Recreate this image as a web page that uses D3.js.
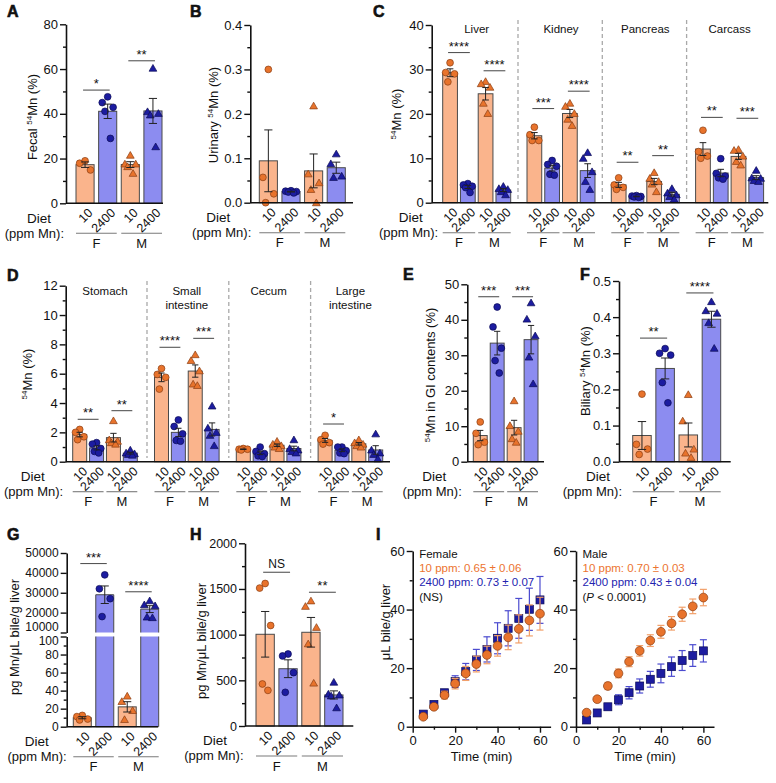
<!DOCTYPE html>
<html><head><meta charset="utf-8">
<script src="https://cdn.jsdelivr.net/npm/d3@7"></script>
<style>
body{margin:0;background:#fff}
svg{display:block}
text{font-family:"Liberation Sans",Arial,Helvetica,sans-serif;fill:#111}
</style>
</head><body>
<svg id="c" width="776" height="783"></svg>
<script>
// ---------------- DATA ----------------
const dietLabels = ["10", "2400", "10", "2400"];
const sexLabels = ["F", "M"];
// each panel: [F 10 ppm, F 2400 ppm, M 10 ppm, M 2400 ppm] individual values
const fecalPts = [[19.0, 17.9, 14.9], [47.6, 45.0, 42.9, 41.1, 29.0], [21.5, 17.6, 17.6, 16.4, 13.4], [60.4, 41.0, 40.2, 39.5, 25.3]];
const urinaryPts = [[0.30, 0.057, 0.02, 0.0], [0.027, 0.026, 0.025, 0.024, 0.022], [0.218, 0.065, 0.045, 0.03, 0.0], [0.11, 0.088, 0.06, 0.057]];
const organNamesC = [["Liver"], ["Kidney"], ["Pancreas"], ["Carcass"]];
const liverPts = [[31.5, 29.3, 29.0, 27.2], [4.3, 4.0, 3.7, 3.4, 2.3], [27.3, 26.8, 26.0, 22.4, 20.1], [3.7, 3.2, 3.0, 2.5, 1.8]];
const kidneyPts = [[17.0, 15.3, 14.0, 14.0], [9.5, 8.6, 8.2, 6.4, 6.2], [22.4, 21.7, 20.1, 18.8, 17.4], [11.3, 10.0, 7.0, 4.8, 3.0]];
const pancreasPts = [[5.6, 4.0, 3.45, 3.0], [1.6, 1.5, 1.4, 1.3, 1.2], [6.8, 5.5, 4.8, 4.2, 2.5], [3.2, 2.2, 1.8, 1.4, 0.8]];
const carcassPts = [[16.3, 11.5, 10.5, 10.0], [9.9, 6.6, 6.0, 5.6, 5.3], [12.0, 11.8, 10.5, 9.3, 8.5], [7.3, 5.6, 5.5, 5.0, 4.8]];
const organNamesD = [["Stomach"], ["Small", "intestine"], ["Cecum"], ["Large", "intestine"]];
const stomachPts = [[2.2, 2.0, 1.7, 1.5], [1.3, 1.2, 0.9, 0.7, 0.6], [2.8, 1.5, 1.4, 1.3, 1.2], [0.8, 0.6, 0.55, 0.5, 0.45]];
const smallIntPts = [[6.35, 5.95, 5.75, 4.95], [2.85, 2.4, 1.9, 1.45, 1.4], [7.3, 6.9, 6.2, 5.3, 5.2], [3.8, 2.3, 2.0, 1.8, 1.1]];
const cecumPts = [[0.9, 0.85, 0.85, 0.8], [1.0, 0.7, 0.55, 0.4, 0.35], [1.4, 1.2, 1.1, 1.0, 0.9], [1.5, 0.9, 0.8, 0.7, 0.6]];
const largeIntPts = [[1.8, 1.5, 1.3, 1.2], [1.0, 1.0, 0.75, 0.6, 0.55], [1.5, 1.3, 1.2, 1.1, 1.0], [1.9, 0.8, 0.6, 0.5, 0.2]];
const giPts = [[11.2, 8.0, 5.5, 4.8], [43.6, 38.0, 32.0, 28.5, 25.0], [17.2, 10.2, 8.6, 6.5, 5.5], [44.8, 40.2, 35.5, 29.5, 22.0]];
const biliaryPts = [[0.187, 0.048, 0.035, 0.02], [0.313, 0.300, 0.295, 0.219, 0.163], [0.186, 0.113, 0.035, 0.024, 0.012], [0.443, 0.418, 0.411, 0.385, 0.314]];
const bileMnPts = [[12.5, 11.2, 8.5, 7.5], [39000, 32000, 27000, 18000], [34, 28, 18, 8], [26000, 24000, 23500, 17800, 17500]];
const bileConcPts = [[1560, 1510, 1100, 460, 390], [788, 767, 584, 369], [1370, 1310, 1080, 900, 470], [480, 350, 340, 330, 200]];
// significance: group, bar a, bar b, level (data units), label
const sigA = [[0, 0, 1, 50.6, "*"], [0, 2, 3, 63.7, "**"]];
const sigC = [[0, 0, 1, 33.8, "****"], [0, 2, 3, 29.7, "****"], [1, 0, 1, 21.2, "***"], [1, 2, 3, 25.1, "****"],
              [2, 0, 1, 9.1, "**"], [2, 2, 3, 10.6, "**"], [3, 0, 1, 19.2, "**"], [3, 2, 3, 19.0, "***"]];
const sigD = [[0, 0, 1, 2.89, "**"], [0, 2, 3, 3.48, "**"], [1, 0, 1, 7.8, "****"], [1, 2, 3, 8.41, "***"], [3, 0, 1, 2.57, "*"]];
const sigE = [[0, 0, 1, 46.5, "***"], [0, 2, 3, 46.5, "***"]];
const sigF = [[0, 0, 1, 0.342, "**"], [0, 2, 3, 0.467, "****"]];
const sigG = [[0, 0, 1, 44700, "***"], [0, 2, 3, 30500, "****"]];
const sigH = [[0, 0, 1, 1683, "NS"], [0, 2, 3, 1464, "**"]];
// Panel I: cumulative bile volume
const timeMin = [5, 10, 15, 20, 25, 30, 35, 40, 45, 50, 55, 60];
const femaleLoMean = [3.4, 6.8, 10.8, 14.7, 18.2, 21.4, 24.5, 27.6, 30.5, 33.4, 36.3, 38.6];
const femaleLoSem = [0.5, 0.8, 1.3, 1.8, 2.4, 2.7, 3.0, 3.5, 4.2, 4.8, 5.3, 5.6];
const femaleHiMean = [4.3, 7.6, 11.6, 15.4, 18.8, 22.8, 26.4, 30.2, 33.6, 37.0, 40.1, 43.3];
const femaleHiSem = [0.5, 0.7, 1.0, 2.0, 2.8, 3.6, 4.3, 5.3, 6.0, 6.8, 7.2, 8.0];
const maleLoMean = [4.8, 9.4, 13.9, 18.2, 22.2, 25.9, 29.4, 32.4, 35.3, 38.4, 41.1, 44.1];
const maleLoSem = [0.5, 0.8, 1.2, 1.5, 1.7, 1.8, 2.0, 2.2, 2.3, 2.4, 2.5, 2.8];
const maleHiMean = [2.3, 4.7, 6.8, 9.2, 11.6, 13.9, 16.2, 18.2, 20.5, 22.6, 24.3, 25.9];
const maleHiSem = [0.5, 0.6, 1.0, 1.7, 2.1, 2.4, 2.7, 3.2, 3.3, 3.4, 3.7, 3.8];
const femaleText = ["Female", "10 ppm: 0.65 ± 0.06", "2400 ppm: 0.73 ± 0.07", "(NS)"];
const maleText = ["Male", "10 ppm: 0.70 ± 0.03", "2400 ppm: 0.43 ± 0.04", "(P < 0.0001)"];

// ---------------- STYLE ----------------
const col = {oBar: "#fab48c", bBar: "#8c8cf0", oPt: "#e8732c", oPtS: "#8a3e12", bPt: "#1c1ca0", bPtS: "#0b0b55",
             edge: "#4a4a4a", axis: "#111", oErr: "#f2a06a", bErr: "#4b4bcf", oTxt: "#ec7430", bTxt: "#2323b0"};
const svg = d3.select("#c");
const offs = [0, -0.3, 0.3, -0.15, 0.15, 0];
const sem = a => d3.deviation(a) / Math.sqrt(a.length);

function yAxisDraw(g, y, x, major, minor, fmt, fs) {
  const ax = g.append("g").attr("transform", `translate(${x},0)`)
    .call(d3.axisLeft(y).tickValues(major).tickFormat(fmt).tickSize(6).tickSizeOuter(0).tickPadding(2))
    .call(s => {
      s.select(".domain").attr("stroke", col.axis).attr("stroke-width", 1.6);
      s.selectAll(".tick line").attr("stroke", col.axis).attr("stroke-width", 1.4);
      s.selectAll(".tick text").style("font-size", (fs || 13) + "px").attr("fill", "#111");
    });
  if (minor) g.append("g").attr("transform", `translate(${x},0)`)
    .call(d3.axisLeft(y).tickValues(minor).tickFormat("").tickSize(3).tickSizeOuter(0))
    .call(s => { s.select(".domain").remove(); s.selectAll(".tick line").attr("stroke", col.axis).attr("stroke-width", 1.4); });
  return ax;
}
function yTitle(x, y, parts) {
  const t = svg.append("text").attr("transform", `translate(${x},${y}) rotate(-90)`)
    .attr("text-anchor", "middle").attr("dy", "0.35em").style("font-size", "13px");
  let prevSup = false;
  parts.forEach(p => {
    if (p[0] === "^") { t.append("tspan").text(p.slice(1)).style("font-size", "8px").attr("dy", -5); prevSup = true; }
    else { const ts = t.append("tspan").text(p); if (prevSup) ts.attr("dy", 5); prevSup = false; }
  });
}
function letter(t, x, y) {
  svg.append("text").attr("x", x).attr("y", y).text(t).style("font-size", "16px").style("font-weight", "bold")
    .attr("stroke", "#111").attr("stroke-width", 0.6);
}
function marker(g, x, y, male, blue) {
  if (male) g.append("path").attr("d", d3.symbol().type(d3.symbolTriangle).size(26)()).attr("transform", `translate(${x},${y + 0.8})`)
    .attr("fill", blue ? col.bPt : col.oPt).attr("stroke", blue ? col.bPtS : col.oPtS).attr("stroke-width", 0.7);
  else g.append("circle").attr("cx", x).attr("cy", y).attr("r", 3.4)
    .attr("fill", blue ? col.bPt : col.oPt).attr("stroke", blue ? col.bPtS : col.oPtS).attr("stroke-width", 0.7);
}
function errbar(g, cx, yHi, yLo, cap, color, w) {
  const s = color || "#222", sw = w || 1;
  g.append("line").attr("x1", cx).attr("x2", cx).attr("y1", yHi).attr("y2", yLo).attr("stroke", s).attr("stroke-width", sw);
  [yHi, yLo].forEach(yy => g.append("line").attr("x1", cx - cap / 2).attr("x2", cx + cap / 2).attr("y1", yy).attr("y2", yy).attr("stroke", s).attr("stroke-width", sw));
}
function xLabel(g, cx, yBot, t) {
  g.append("text").attr("transform", `translate(${cx + 2},${yBot + 4}) rotate(-45)`).attr("text-anchor", "end")
    .attr("dy", "0.72em").style("font-size", "12.5px").text(t);
}
function dietText(g, o) {
  g.append("text").attr("x", o.axisX + o.dietDx).attr("y", o.yBot + 19.3).attr("text-anchor", "middle").style("font-size", "13.5px").text("Diet");
  g.append("text").attr("x", o.axisX + o.ppmDx).attr("y", o.yBot + 34.2).attr("text-anchor", "end").style("font-size", "13px").text("(ppm Mn):");
}
function underline(g, xa, xb, yBot, t) {
  g.append("line").attr("x1", xa).attr("x2", xb).attr("y1", yBot + 30).attr("y2", yBot + 30).attr("stroke", "#7a7a7a").attr("stroke-width", 1.1);
  g.append("text").attr("x", (xa + xb) / 2).attr("y", yBot + 44.5).attr("text-anchor", "middle").style("font-size", "13px").text(t);
}
function sigMark(g, xa, xb, yy, t) {
  g.append("line").attr("x1", xa).attr("x2", xb).attr("y1", yy).attr("y2", yy).attr("stroke", "#555").attr("stroke-width", 1.1);
  g.append("text").attr("x", (xa + xb) / 2).attr("y", t === "NS" ? yy - 4 : yy - 2).attr("text-anchor", "middle")
    .style("font-size", t === "NS" ? "12px" : "13px").text(t);
}

// ---------------- BAR PANEL ----------------
function barPanel(o) {
  const g = svg.append("g");
  const y = d3.scaleLinear().domain(o.domain).range([o.yBot, o.yTop]);
  const inner = d3.scaleBand().domain(d3.range(4)).range([0, o.innerW]).paddingInner(o.pad);
  const bw = inner.bandwidth();
  const gx = k => o.axisX + o.first + k * (o.step || 0);
  for (let k = 1; k < o.groups.length; k++) {
    const sx = gx(k) - o.sepOff;
    g.append("line").attr("x1", sx).attr("x2", sx).attr("y1", o.sepTop).attr("y2", o.sepBot)
      .attr("stroke", "#a9a9a9").attr("stroke-width", 1.3).attr("stroke-dasharray", "4,3");
  }
  const centers = [];
  o.groups.forEach((grp, k) => {
    const base = gx(k);
    if (o.names) o.names[k].forEach((ln, li) => g.append("text").attr("x", base + o.innerW / 2).attr("y", o.nameY + li * 14)
      .attr("text-anchor", "middle").style("font-size", "11.5px").text(ln));
    centers[k] = [];
    grp.forEach((pts, i) => {
      const x0 = base + inner(i), cx = x0 + bw / 2;
      centers[k][i] = cx;
      const m = d3.mean(pts), s = sem(pts);
      const blue = i % 2 === 1, male = i >= 2;
      g.append("rect").attr("x", x0).attr("y", y(m)).attr("width", bw).attr("height", y(0) - y(m))
        .attr("fill", blue ? col.bBar : col.oBar).attr("stroke", col.edge).attr("stroke-width", 1);
      pts.forEach((v, j) => marker(g, cx + offs[j] * bw, y(v), male, blue));
      errbar(g, cx, y(m + s), y(Math.max(m - s, o.domain[0])), bw * 0.45);
      xLabel(g, cx, o.yBot, dietLabels[i]);
    });
    underline(g, base + inner(0), base + inner(1) + bw, o.yBot, sexLabels[0]);
    underline(g, base + inner(2), base + inner(3) + bw, o.yBot, sexLabels[1]);
  });
  (o.sig || []).forEach(s => sigMark(g, centers[s[0]][s[1]] - 2, centers[s[0]][s[2]] + 2, y(s[3]), s[4]));
  g.append("line").attr("x1", o.axisX).attr("x2", o.xEnd).attr("y1", o.yBot).attr("y2", o.yBot).attr("stroke", col.axis).attr("stroke-width", 1.6);
  yAxisDraw(g, y, o.axisX, o.major, o.minor, o.fmt, o.fs);
  dietText(g, o);
}

const f0 = d3.format("d"), f1 = d3.format(".1f");
// A
barPanel({axisX: 66, xEnd: 163, yTop: 24.3, yBot: 203.3, domain: [0, 80], major: [0, 20, 40, 60, 80], minor: [10, 30, 50, 70], fmt: f0,
  first: 10, innerW: 86, pad: 0.2, groups: [fecalPts], sig: sigA, dietDx: -27, ppmDx: -2});
// B
barPanel({axisX: 250.3, xEnd: 353, yTop: 25, yBot: 202.7, domain: [0, 0.4], major: [0, 0.1, 0.2, 0.3, 0.4], minor: [0.05, 0.15, 0.25, 0.35], fmt: f1,
  first: 9, innerW: 86, pad: 0.2, groups: [urinaryPts], dietDx: -32, ppmDx: 1});
// C
barPanel({axisX: 431.7, xEnd: 768.3, yTop: 25, yBot: 202.7, domain: [0, 40], major: [0, 10, 20, 30, 40], minor: [5, 15, 25, 35], fmt: f0,
  first: 11, step: 84.3, innerW: 68, pad: 0.17, sepOff: 9, sepTop: 20, sepBot: 200,
  groups: [liverPts, kidneyPts, pancreasPts, carcassPts], names: organNamesC, nameY: 33, sig: sigC, dietDx: -21, ppmDx: 6.5});
// D
barPanel({axisX: 65.7, xEnd: 390, yTop: 285.7, yBot: 461.7, domain: [0, 12], major: [0, 2, 4, 6, 8, 10, 12], minor: [1, 3, 5, 7, 9, 11], fmt: f0,
  first: 7, step: 81.8, innerW: 64.6, pad: 0.17, sepOff: 7.5, sepTop: 281, sepBot: 458,
  groups: [stomachPts, smallIntPts, cecumPts, largeIntPts], names: organNamesD, nameY: 295, sig: sigD, dietDx: -33, ppmDx: -2.5});
// E
barPanel({axisX: 467.3, xEnd: 544, yTop: 284.3, yBot: 461.7, domain: [0, 50], major: [0, 10, 20, 30, 40, 50], minor: [5, 15, 25, 35, 45], fmt: f0,
  first: 6, innerW: 64.7, pad: 0.18, groups: [giPts], sig: sigE, dietDx: -33, ppmDx: -5.5});
// F
barPanel({axisX: 619, xEnd: 730.7, yTop: 281, yBot: 461.7, domain: [0, 0.5], major: [0, 0.1, 0.2, 0.3, 0.4, 0.5], minor: [0.05, 0.15, 0.25, 0.35, 0.45], fmt: f1,
  first: 13.7, innerW: 88, pad: 0.2, groups: [biliaryPts], sig: sigF, dietDx: -21, ppmDx: 3});
// H
barPanel({axisX: 245, xEnd: 353.3, yTop: 543.3, yBot: 726, domain: [0, 2000], major: [0, 500, 1000, 1500, 2000], minor: [250, 750, 1250, 1750], fmt: f0, fs: 12.5,
  first: 11, innerW: 87, pad: 0.2, groups: [bileConcPts], sig: sigH, dietDx: -30, ppmDx: -1.5});

// G (broken axis)
(function () {
  const o = {axisX: 66.7, xEnd: 158, yBot: 726.7, dietDx: -30, ppmDx: 0};
  const g = svg.append("g");
  const yT = d3.scaleLinear().domain([10000, 50000]).range([632.5, 553]);
  const yB = d3.scaleLinear().domain([0, 100]).range([726.7, 636.5]);
  const inner = d3.scaleBand().domain(d3.range(4)).range([o.axisX + 6.6, o.axisX + 92]).paddingInner(0.2);
  const bw = inner.bandwidth();
  const cs = [];
  bileMnPts.forEach((pts, i) => {
    const x0 = inner(i), cx = x0 + bw / 2; cs[i] = cx;
    const m = d3.mean(pts), s = sem(pts), blue = i % 2 === 1, male = i >= 2;
    const fill = blue ? col.bBar : col.oBar;
    if (!blue) {
      g.append("rect").attr("x", x0).attr("y", yB(m)).attr("width", bw).attr("height", yB(0) - yB(m)).attr("fill", fill).attr("stroke", col.edge);
      pts.forEach((v, j) => marker(g, cx + offs[j] * bw, yB(v), male, blue));
      errbar(g, cx, yB(m + s), yB(m - s), bw * 0.45);
    } else {
      g.append("rect").attr("x", x0).attr("y", yB(100)).attr("width", bw).attr("height", yB(0) - yB(100)).attr("fill", fill);
      g.append("path").attr("d", `M${x0},${yB(100)}V${yB(0)}H${x0 + bw}V${yB(100)}`).attr("fill", "none").attr("stroke", col.edge);
      g.append("rect").attr("x", x0).attr("y", yT(m)).attr("width", bw).attr("height", yT(10000) - yT(m)).attr("fill", fill);
      g.append("path").attr("d", `M${x0},${yT(10000)}V${yT(m)}H${x0 + bw}V${yT(10000)}`).attr("fill", "none").attr("stroke", col.edge);
      pts.forEach((v, j) => marker(g, cx + offs[j] * bw, yT(v), male, blue));
      errbar(g, cx, yT(m + s), yT(m - s), bw * 0.45);
    }
    xLabel(g, cx, o.yBot, dietLabels[i]);
  });
  underline(g, inner(0), inner(1) + bw, o.yBot, sexLabels[0]);
  underline(g, inner(2), inner(3) + bw, o.yBot, sexLabels[1]);
  sigG.forEach(s => sigMark(g, cs[s[1]] - 2, cs[s[2]] + 2, yT(s[3]), s[4]));
  g.append("line").attr("x1", o.axisX).attr("x2", o.xEnd).attr("y1", o.yBot).attr("y2", o.yBot).attr("stroke", col.axis).attr("stroke-width", 1.6);
  const axT = yAxisDraw(g, yT, o.axisX, [10000, 20000, 30000, 40000, 50000], null, f0, 12);
  axT.selectAll(".tick text").filter(d => d === 10000).attr("dy", "-0.2em");
  const axB = yAxisDraw(g, yB, o.axisX, [0, 20, 40, 60, 80, 100], [10, 30, 50, 70, 90], f0, 12);
  axB.selectAll(".tick text").filter(d => d === 100).attr("dy", "0.66em");
  dietText(g, o);
})();

// I
function timePanel(axisX, xEnd, loM, loS, hiM, hiS, texts) {
  const g = svg.append("g");
  const x = d3.scaleLinear().domain([0, 65]).range([axisX, xEnd]);
  const y = d3.scaleLinear().domain([0, 60]).range([726.7, 551]);
  timeMin.forEach((t, i) => errbar(g, x(t), y(hiM[i] + hiS[i]), y(hiM[i] - hiS[i]), 7, col.bErr, 1.2));
  timeMin.forEach((t, i) => g.append("rect").attr("x", x(t) - 4).attr("y", y(hiM[i]) - 4).attr("width", 8).attr("height", 8)
    .attr("fill", col.bPt).attr("stroke", col.bPtS).attr("stroke-width", 0.7));
  timeMin.forEach((t, i) => errbar(g, x(t), y(loM[i] + loS[i]), y(loM[i] - loS[i]), 7, col.oErr, 1.2));
  timeMin.forEach((t, i) => g.append("circle").attr("cx", x(t)).attr("cy", y(loM[i])).attr("r", 4.4)
    .attr("fill", col.oPt).attr("stroke", col.oPtS).attr("stroke-width", 0.7));
  g.append("g").attr("transform", `translate(0,${y(0)})`)
    .call(d3.axisBottom(x).tickValues([0, 20, 40, 60]).tickFormat(f0).tickSize(6).tickSizeOuter(0).tickPadding(3))
    .call(s => { s.select(".domain").attr("stroke", col.axis).attr("stroke-width", 1.6);
      s.selectAll(".tick line").attr("stroke", col.axis).attr("stroke-width", 1.4);
      s.selectAll(".tick text").style("font-size", "13px").attr("fill", "#111"); });
  g.append("g").attr("transform", `translate(0,${y(0)})`)
    .call(d3.axisBottom(x).tickValues([10, 30, 50]).tickFormat("").tickSize(3).tickSizeOuter(0))
    .call(s => { s.select(".domain").remove(); s.selectAll(".tick line").attr("stroke", col.axis).attr("stroke-width", 1.4); });
  yAxisDraw(g, y, axisX, [0, 20, 40, 60], [10, 30, 50], f0);
  g.append("text").attr("x", (axisX + xEnd) / 2).attr("y", 760.5).attr("text-anchor", "middle").style("font-size", "13px").text("Time (min)");
  const colors = ["#111", col.oTxt, col.bTxt, "#111"];
  texts.forEach((t, i) => {
    const tx = g.append("text").attr("x", axisX + 6.5).attr("y", 558 + i * 14.2).style("font-size", "11.5px").style("fill", colors[i]);
    if (t.startsWith("(P")) { tx.append("tspan").text("("); tx.append("tspan").text("P").style("font-style", "italic"); tx.append("tspan").text(t.slice(2)); }
    else tx.text(t);
  });
}
timePanel(412.7, 550.6, femaleLoMean, femaleLoSem, femaleHiMean, femaleHiSem, femaleText);
timePanel(576, 714, maleLoMean, maleLoSem, maleHiMean, maleHiSem, maleText);

// titles
yTitle(32, 117, ["Fecal ", "^54", "Mn (%)"]);
yTitle(213, 115, ["Urinary ", "^54", "Mn (%)"]);
yTitle(401, 114, ["^54", "Mn (%)"]);
yTitle(32, 374, ["^54", "Mn (%)"]);
yTitle(435, 375, ["^54", "Mn in GI contents (%)"]);
yTitle(585, 371, ["Biliary ", "^54", "Mn (%)"]);
yTitle(14, 637, ["pg Mn/μL bile/g liver"]);
yTitle(201, 641, ["pg Mn/μL bile/g liver"]);
yTitle(385, 622, ["μL bile/g liver"]);

// letters
letter("A", 7, 17); letter("B", 190, 17); letter("C", 373, 17);
letter("D", 7, 281); letter("E", 403, 280); letter("F", 580, 280);
letter("G", 7, 540); letter("H", 190, 540); letter("I", 376, 540);
</script>
</body></html>
